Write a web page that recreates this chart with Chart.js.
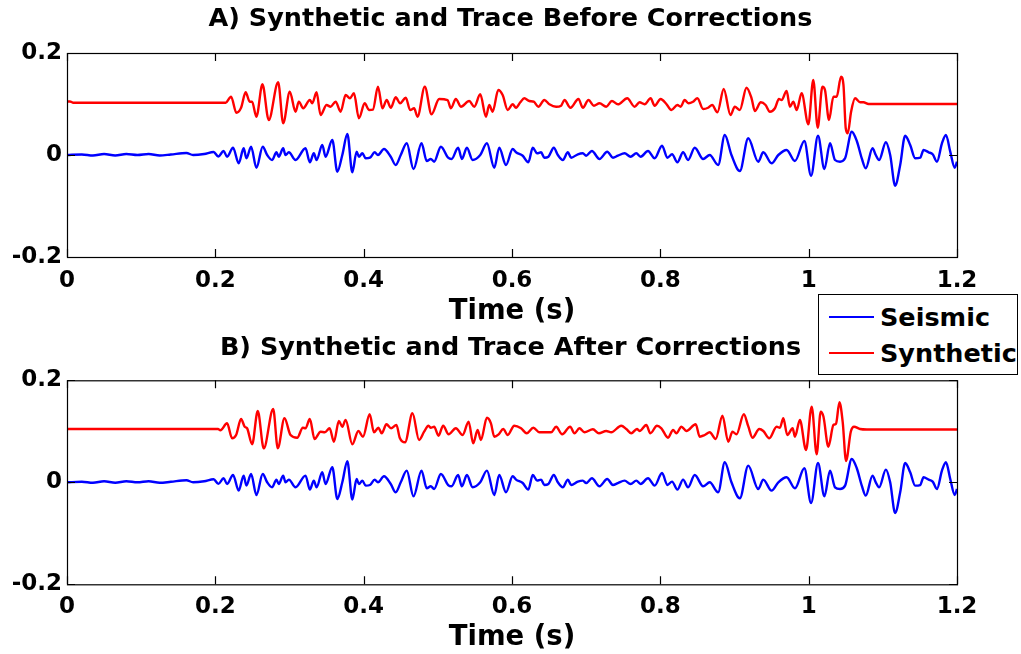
<!DOCTYPE html>
<html>
<head>
<meta charset="utf-8">
<script src="https://cdn.jsdelivr.net/npm/chart.js@4.4.1/dist/chart.umd.min.js"></script>
<style>
  html, body { margin:0; padding:0; background:#fff; }
  body { width:1021px; height:654px; position:relative; overflow:hidden; font-family:'DejaVu Sans', sans-serif; }
  canvas { position:absolute; left:0; }
  #cA { top:0; }
  #cB { top:330px; }
  #legend { position:absolute; left:818px; top:294px; width:198px; height:79px; border:1px solid #000; background:#fff; z-index:5;
            font-family:'DejaVu Sans', sans-serif; font-weight:bold; font-size:25.5px; color:#000; }
  .item { position:absolute; left:0; width:198px; height:30px; }
  .swatch { position:absolute; left:10px; width:45px; height:0; border-top:2px solid; }
  .lbl { position:absolute; left:61px; line-height:30px; top:0; white-space:nowrap; }
</style>
</head>
<body>
<canvas id="cA" width="1021" height="330"></canvas>
<canvas id="cB" width="1021" height="324"></canvas>
<div id="legend">
  <div class="item" style="top:7px"><div class="swatch" style="top:14px;border-color:#0000ff"></div><div class="lbl">Seismic</div></div>
  <div class="item" style="top:43px"><div class="swatch" style="top:14px;border-color:#ff0000"></div><div class="lbl">Synthetic</div></div>
</div>
<script>
// ---------------- data ----------------
const titleA = 'A) Synthetic and Trace Before Corrections';
const titleB = 'B) Synthetic and Trace After Corrections';
const xAxisTitle = 'Time (s)';
const seriesNames = ['Seismic', 'Synthetic'];
const xTickValues = [0, 0.2, 0.4, 0.6, 0.8, 1.0, 1.2];
const yTickValues = [-0.2, 0, 0.2];

// Seismic trace (same in both panels)
const seismicTime = [0,0.02,0.035,0.05,0.065,0.08,0.095,0.11,0.125,0.14,0.161,0.17,0.185,0.1977,0.204,0.2112,0.2158,0.2239,0.2315,0.2382,0.2419,0.2482,0.2554,0.2639,0.2699,0.2766,0.2824,0.2855,0.2915,0.2946,0.2991,0.3081,0.3216,0.3274,0.3328,0.3365,0.3442,0.3486,0.3577,0.3645,0.3712,0.378,0.3847,0.3905,0.3936,0.3982,0.4027,0.4085,0.4149,0.4193,0.4274,0.4365,0.4432,0.45,0.4581,0.4672,0.478,0.4851,0.4905,0.495,0.5041,0.5139,0.5185,0.5274,0.5324,0.5392,0.5469,0.5572,0.5662,0.5761,0.5828,0.5919,0.6009,0.6054,0.6145,0.622,0.628,0.6338,0.6392,0.6436,0.6491,0.6564,0.6618,0.6685,0.6753,0.6797,0.6888,0.6955,0.7,0.7077,0.718,0.7284,0.7361,0.7428,0.7518,0.7599,0.7676,0.7734,0.7834,0.7923,0.8023,0.8095,0.8158,0.823,0.8307,0.8374,0.8464,0.8577,0.8666,0.878,0.8869,0.8959,0.9072,0.9185,0.932,0.9388,0.95,0.9591,0.9703,0.9815,0.9942,1.0032,1.0126,1.0212,1.0288,1.0355,1.0423,1.0491,1.0581,1.0649,1.0716,1.077,1.0861,1.0905,1.095,1.1041,1.1099,1.1166,1.1234,1.1301,1.1369,1.1436,1.1504,1.1549,1.1618,1.1672,1.173,1.1797,1.1851,1.1909,1.1969,1.2];
const seismicVal = [0,0.001,-0.001,0.002,-0.001,0.002,0,0.002,-0.001,0.001,0.004,0,0.002,0.006,-0.003,0.0078,-0.0033,0.0143,-0.0163,0.0131,-0.0065,0.0163,-0.0249,0.0163,0,-0.0098,0.0053,-0.0033,0.0131,0,0.0053,-0.0098,0.0131,-0.0143,0.0033,-0.0098,0.0196,-0.0033,0.0294,-0.0327,0,0.0412,-0.0339,0.0065,-0.0033,0.0033,-0.0065,-0.0053,0.0053,0,0.0118,-0.0033,-0.0196,0,0.0229,-0.0275,0.0229,-0.0118,-0.0078,-0.0131,0.0163,-0.0053,-0.0078,0.0143,-0.0078,0.0143,-0.0098,0,0.0229,-0.0249,0.0143,-0.0196,0.0118,0.0053,-0.0014,-0.0143,0.0143,0.0033,0.0053,-0.0053,-0.0033,0.0143,0,-0.0098,0.0053,-0.0053,0.0014,0.0033,-0.0014,0.0078,-0.0078,0.0065,-0.0053,-0.0014,0.0033,-0.0033,0.0033,-0.0033,0.0078,-0.0065,0.0182,-0.0053,0.0014,-0.0143,0.0053,-0.0098,0.0143,-0.0078,0,-0.0196,0.0392,0,-0.0314,0.0327,-0.0131,0.0053,-0.0163,0,0.0098,-0.0118,0.0275,-0.0406,0.0378,-0.0275,0.0229,-0.0098,-0.0131,-0.0065,0.0457,0.0275,-0.0065,-0.0261,0.0131,0,-0.0098,0.0249,0,-0.0602,-0.0196,0.0378,0.0196,-0.0065,-0.0053,0.0098,0.0053,0.0014,-0.0131,0.0229,0.0392,0.0065,-0.0249,-0.013];

// Synthetic trace, panel A (before corrections)
const synthTimeA = [0,0.004,0.008,0.214,0.2212,0.2284,0.2347,0.2409,0.2464,0.2495,0.2554,0.2635,0.272,0.2847,0.2915,0.3004,0.3081,0.3126,0.3185,0.3274,0.3307,0.3365,0.3419,0.35,0.3554,0.3622,0.3689,0.3757,0.3815,0.3869,0.3936,0.4014,0.4072,0.4125,0.4193,0.4253,0.4311,0.4365,0.4432,0.4491,0.4568,0.4626,0.468,0.4726,0.4824,0.4915,0.5018,0.5131,0.5176,0.5243,0.5311,0.5423,0.5491,0.5572,0.5649,0.5693,0.5739,0.5815,0.5874,0.5942,0.6009,0.6054,0.6112,0.6166,0.6234,0.6293,0.6355,0.6436,0.6504,0.6595,0.6662,0.6707,0.6788,0.6896,0.6955,0.7031,0.7104,0.718,0.727,0.7347,0.7428,0.7554,0.7653,0.772,0.7788,0.7869,0.7923,0.8004,0.8081,0.8149,0.823,0.8274,0.8328,0.8382,0.8441,0.85,0.8577,0.8644,0.8699,0.877,0.8855,0.8946,0.9004,0.9072,0.9162,0.923,0.9274,0.9355,0.9419,0.9477,0.9545,0.9599,0.9635,0.9703,0.9747,0.9793,0.9838,0.9905,0.9996,1.0062,1.0122,1.0185,1.022,1.0274,1.0334,1.0378,1.0436,1.0469,1.05,1.0527,1.0572,1.0626,1.0693,1.0739,1.0807,1.2];
const synthValA = [0.105,0.105,0.1025,0.1025,0.1143,0.0829,0.0927,0.1229,0.1045,0.1045,0.0751,0.1386,0.0686,0.1425,0.0622,0.1241,0.0849,0.1045,0.0916,0.1078,0.1014,0.1229,0.0784,0.098,0.0947,0.1045,0.0849,0.1176,0.1112,0.121,0.072,0.1014,0.0882,0.089,0.1339,0.0916,0.1078,0.0927,0.1131,0.1014,0.1124,0.0882,0.0916,0.0751,0.1339,0.0798,0.1098,0.1078,0.0916,0.1098,0.0947,0.1059,0.0947,0.119,0.0751,0.098,0.0849,0.1275,0.1176,0.0882,0.0994,0.0927,0.1033,0.1112,0.1059,0.1045,0.0947,0.1078,0.0994,0.0947,0.0967,0.1078,0.0927,0.1098,0.0927,0.1078,0.0967,0.1014,0.0947,0.1059,0.0994,0.1112,0.0947,0.1033,0.0994,0.1112,0.0967,0.1098,0.1,0.0882,0.098,0.0947,0.1078,0.1014,0.1045,0.1112,0.0902,0.0927,0.098,0.0837,0.1294,0.0784,0.0947,0.0882,0.132,0.1112,0.0863,0.1033,0.098,0.0849,0.0916,0.1098,0.1078,0.1255,0.0947,0.1045,0.0882,0.121,0.0602,0.1471,0.0535,0.1339,0.1275,0.0686,0.1143,0.1143,0.1535,0.1373,0.0524,0.0425,0.0849,0.1112,0.1033,0.1033,0.1,0.1];

// Synthetic trace, panel B (after corrections)
const synthTimeB = [0,0.2036,0.2068,0.2158,0.2226,0.228,0.2347,0.2396,0.2428,0.2496,0.2572,0.2653,0.278,0.2842,0.2932,0.3014,0.3104,0.318,0.3216,0.3274,0.3338,0.3419,0.3477,0.3541,0.3599,0.3666,0.3712,0.3757,0.3847,0.3928,0.3991,0.4081,0.4139,0.4199,0.4243,0.4307,0.4369,0.4442,0.4486,0.4558,0.4658,0.4747,0.4815,0.4874,0.4905,0.495,0.5009,0.5072,0.5145,0.5243,0.5334,0.5415,0.5477,0.5536,0.5581,0.5662,0.5716,0.5761,0.582,0.5882,0.5942,0.6031,0.6122,0.6199,0.6288,0.6369,0.6527,0.6595,0.6676,0.6784,0.6842,0.6909,0.6977,0.7091,0.7172,0.727,0.7338,0.7473,0.7541,0.7608,0.7685,0.772,0.7811,0.7865,0.7955,0.8014,0.8104,0.8172,0.8216,0.8284,0.8351,0.8477,0.8531,0.8599,0.8666,0.8747,0.8838,0.8915,0.8973,0.9027,0.9126,0.9185,0.9243,0.9334,0.9388,0.9469,0.9568,0.9612,0.9658,0.9712,0.9784,0.9815,0.9882,0.9964,1.0041,1.0108,1.0162,1.0199,1.0266,1.0334,1.0369,1.0415,1.0459,1.0504,1.0568,1.0612,1.0693,1.0784,1.2];
const synthValB = [0.1045,0.1045,0.102,0.1157,0.0863,0.0927,0.1241,0.109,0.106,0.0745,0.1398,0.0667,0.1437,0.0667,0.1255,0.0927,0.0875,0.107,0.1059,0.1241,0.0849,0.0992,0.098,0.1059,0.0796,0.1202,0.109,0.1222,0.0745,0.1006,0.0894,0.1333,0.098,0.107,0.0961,0.1137,0.1059,0.1124,0.0875,0.0784,0.1353,0.0829,0.0992,0.111,0.107,0.109,0.0914,0.111,0.0941,0.1059,0.0927,0.1188,0.0765,0.1025,0.0829,0.1267,0.1157,0.0894,0.094,0.1045,0.0927,0.111,0.1059,0.0961,0.107,0.098,0.098,0.109,0.0941,0.109,0.0961,0.1059,0.098,0.1039,0.0961,0.1006,0.098,0.111,0.1045,0.0961,0.1045,0.1006,0.1124,0.0961,0.111,0.1059,0.0875,0.1025,0.0961,0.109,0.1006,0.1137,0.0894,0.0927,0.098,0.0849,0.1306,0.0796,0.0992,0.0941,0.1333,0.11,0.0875,0.1045,0.1006,0.0863,0.109,0.107,0.1255,0.0927,0.1059,0.0894,0.1222,0.0633,0.1482,0.0549,0.1384,0.129,0.0698,0.1124,0.115,0.1569,0.118,0.0418,0.0992,0.109,0.1045,0.1035,0.1035];

// ---------------- chart building ----------------
const FONT = "'DejaVu Sans', sans-serif";
Chart.defaults.font.family = FONT;
Chart.defaults.color = '#000';

function pts(ts, vs) { return ts.map((t, i) => ({ x: t, y: vs[i] })); }
function fmt(v) { const r = Math.round(v * 10) / 10; return r === 0 ? '0' : String(r); }

const boxPlugin = {
  id: 'matlabBox',
  afterDatasetsDraw(chart) {
    const { ctx, chartArea: a, scales } = chart;
    const x = scales.x, y = scales.y;
    const L = 8;
    ctx.save();
    ctx.strokeStyle = '#000';
    ctx.lineWidth = 1.2;
    ctx.strokeRect(a.left + 0.5, a.top + 0.5, a.width, a.height);
    ctx.beginPath();
    xTickValues.forEach(v => {
      const p = Math.round(x.getPixelForValue(v)) + 0.5;
      ctx.moveTo(p, a.bottom); ctx.lineTo(p, a.bottom - L);
      ctx.moveTo(p, a.top); ctx.lineTo(p, a.top + L);
    });
    yTickValues.forEach(v => {
      const p = Math.round(y.getPixelForValue(v)) + 0.5;
      ctx.moveTo(a.left, p); ctx.lineTo(a.left + L, p);
      ctx.moveTo(a.right, p); ctx.lineTo(a.right - L, p);
    });
    ctx.stroke();
    ctx.restore();
  }
};

function makeChart(id, title, synthT, synthV, cfg) {
  return new Chart(document.getElementById(id), {
    type: 'line',
    data: {
      datasets: [
        { label: seriesNames[0], data: pts(seismicTime, seismicVal), borderColor: '#0000ff', borderWidth: 2.4,
          pointRadius: 0, cubicInterpolationMode: 'monotone', fill: false },
        { label: seriesNames[1], data: pts(synthT, synthV), borderColor: '#ff0000', borderWidth: 2.4,
          pointRadius: 0, cubicInterpolationMode: 'monotone', fill: false }
      ]
    },
    options: {
      responsive: false,
      animation: false,
      events: [],
      layout: { padding: 0 },
      plugins: {
        legend: { display: false },
        tooltip: { enabled: false },
        title: { display: true, text: title, color: '#000',
                 font: { family: FONT, size: 25.5, weight: 'bold', lineHeight: 1.2 },
                 padding: { top: cfg.titleTop, bottom: cfg.titleBottom } }
      },
      scales: {
        x: {
          type: 'linear', min: 0, max: 1.2,
          afterFit: s => { s.height = cfg.xHeight; },
          afterBuildTicks: s => { s.ticks = xTickValues.map(v => ({ value: v })); },
          ticks: { callback: fmt, font: { family: FONT, size: 23, weight: 'bold', lineHeight: 1.2 },
                   padding: cfg.xTickPad, maxRotation: 0, autoSkip: false, color: '#000' },
          grid: { display: false, drawTicks: false },
          border: { display: false },
          title: { display: true, text: xAxisTitle, color: '#000',
                   font: { family: FONT, size: 27.5, weight: 'bold', lineHeight: 1.2 },
                   padding: { top: 0, bottom: cfg.xTitleBottom } }
        },
        y: {
          type: 'linear', min: -0.2, max: 0.2,
          afterFit: s => { s.width = 67; },
          afterBuildTicks: s => { s.ticks = yTickValues.map(v => ({ value: v })); },
          ticks: { callback: fmt, font: { family: FONT, size: 23, weight: 'bold', lineHeight: 1.2 },
                   padding: 5, color: '#000' },
          grid: { display: false, drawTicks: false },
          border: { display: false }
        },
        yRight: {
          type: 'linear', position: 'right', min: -0.2, max: 0.2, display: true,
          afterFit: s => { s.width = 64; },
          ticks: { display: false },
          grid: { display: false, drawTicks: false },
          border: { display: false }
        }
      }
    },
    plugins: [boxPlugin]
  });
}

makeChart('cA', titleA, synthTimeA, synthValA, { titleTop: 4, titleBottom: 18.4, xHeight: 73, xTickPad: 10, xTitleBottom: 2 });
makeChart('cB', titleB, synthTimeB, synthValB, { titleTop: 3, titleBottom: 16.7, xHeight: 69.7, xTickPad: 9, xTitleBottom: 0 });
</script>
</body>
</html>
